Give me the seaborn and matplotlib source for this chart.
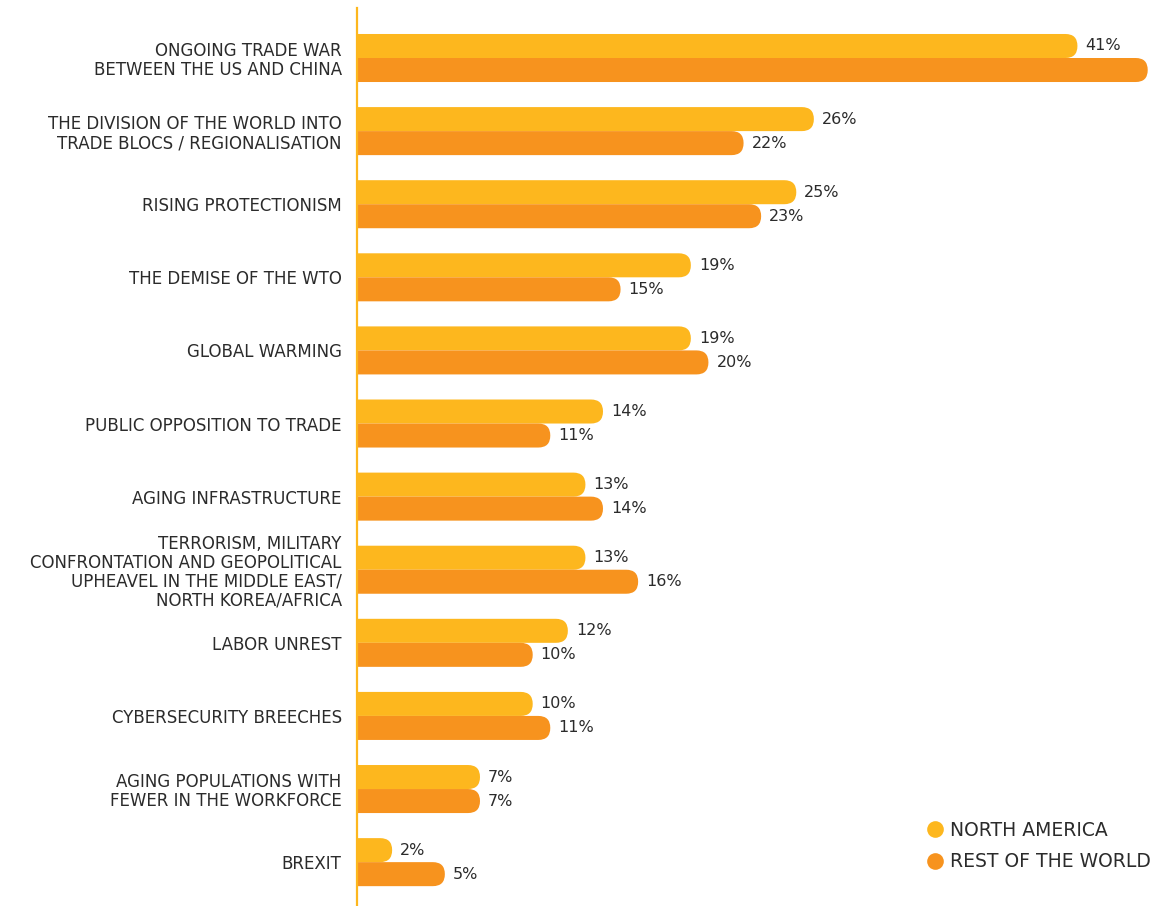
import matplotlib
matplotlib.use("Agg")
import matplotlib.pyplot as plt
import seaborn as sns
import pandas as pd
from matplotlib.patches import FancyBboxPatch
from matplotlib.lines import Line2D

categories = [
    "ONGOING TRADE WAR\nBETWEEN THE US AND CHINA",
    "THE DIVISION OF THE WORLD INTO\nTRADE BLOCS / REGIONALISATION",
    "RISING PROTECTIONISM",
    "THE DEMISE OF THE WTO",
    "GLOBAL WARMING",
    "PUBLIC OPPOSITION TO TRADE",
    "AGING INFRASTRUCTURE",
    "TERRORISM, MILITARY\nCONFRONTATION AND GEOPOLITICAL\nUPHEAVEL IN THE MIDDLE EAST/\nNORTH KOREA/AFRICA",
    "LABOR UNREST",
    "CYBERSECURITY BREECHES",
    "AGING POPULATIONS WITH\nFEWER IN THE WORKFORCE",
    "BREXIT",
]
north_america = [41, 26, 25, 19, 19, 14, 13, 13, 12, 10, 7, 2]
rest_of_world = [45, 22, 23, 15, 20, 11, 14, 16, 10, 11, 7, 5]
series = ["NORTH AMERICA", "REST OF THE WORLD"]
colors = ["#FDB71E", "#F7931E"]
text_color = "#2b2b2b"

df = pd.DataFrame({
    "category": categories * 2,
    "value": north_america + rest_of_world,
    "series": [series[0]] * len(categories) + [series[1]] * len(categories),
})

sns.set_style("white")
plt.rcParams["font.family"] = ["DejaVu Sans"]

W, H = 1153, 906
fig = plt.figure(figsize=(W / 100, H / 100), dpi=100)
left, right, bottom, top = 357 / W, 1.0, 0.0, 1 - 8 / H
ax = fig.add_axes([left, bottom, right - left, top - bottom])

sns.barplot(data=df, y="category", x="value", hue="series", hue_order=series,
            palette=colors, orient="h", width=0.657, saturation=1, ax=ax,
            legend=False, order=categories)

xmax = 45.3
ymin, ymax = -0.684, 11.6
ax.set_xlim(0, xmax)
ax.set_ylim(ymax, ymin)

ppx = W * (right - left) / xmax
ppy = H * (top - bottom) / (ymax - ymin)

rects = list(ax.patches)
for r in rects:
    x0, y0, w, h = r.get_x(), r.get_y(), r.get_width(), r.get_height()
    fc = r.get_facecolor()
    r.remove()
    ry = h / 2
    rx = ry * ppy / ppx
    extra = 1.5
    p = FancyBboxPatch((x0 - extra, y0), w + extra, h,
                       boxstyle=f"round,pad=0,rounding_size={rx}",
                       mutation_aspect=ry / rx, facecolor=fc, edgecolor="none",
                       linewidth=0)
    ax.add_patch(p)

n = len(categories)
bw = 0.657 / 2
for i in range(n):
    for j, vals in enumerate([north_america, rest_of_world]):
        xt = vals[i] + 8 / ppx
        if xt + 2 > xmax:
            continue  # label falls outside the visible area, as in the reference
        yc = i - 0.657 / 2 + bw * (j + 0.5)
        ax.text(xt, yc, f"{vals[i]}%", va="center", ha="left",
                fontsize=11.5, color=text_color, clip_on=False)

for s in ["top", "right", "bottom"]:
    ax.spines[s].set_visible(False)
ax.spines["left"].set_color(colors[0])
ax.spines["left"].set_linewidth(1.6)
ax.set_xticks([])
ax.set_xlabel("")
ax.set_ylabel("")
ax.tick_params(axis="y", length=0, pad=11, labelsize=12, labelcolor=text_color)
for lbl in ax.get_yticklabels():
    lbl.set_linespacing(1.07)

handles = [Line2D([0], [0], marker="o", linestyle="none", markersize=12,
                  markerfacecolor=c, markeredgecolor="none") for c in colors]
fig.legend(handles, series, loc="upper left", bbox_to_anchor=(925 / W, 1 - 821 / H),
           frameon=False, fontsize=13.5, handletextpad=0.25, labelspacing=0.65,
           borderpad=0, borderaxespad=0, handlelength=1.1, labelcolor=text_color)

fig.savefig("out.png", dpi=100)
